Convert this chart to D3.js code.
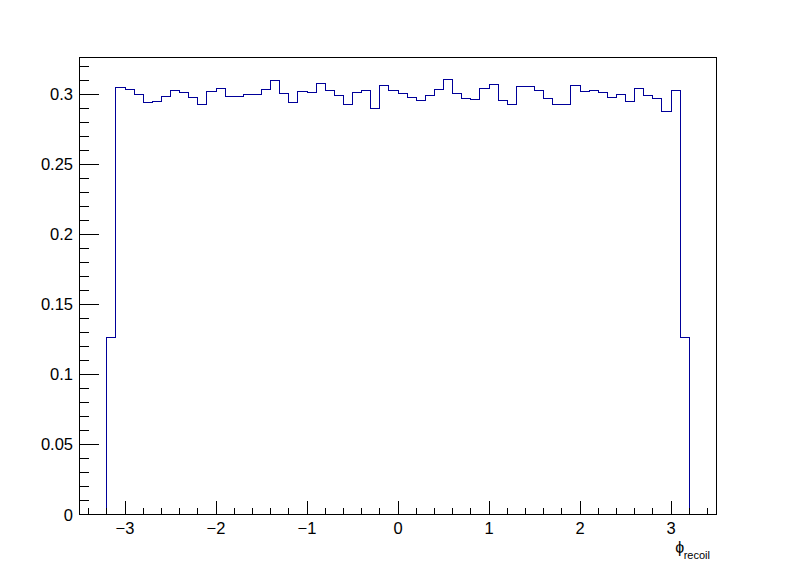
<!DOCTYPE html>
<html>
<head>
<meta charset="utf-8">
<script src="https://cdn.jsdelivr.net/npm/d3@7"></script>
<style>
  html, body { margin: 0; padding: 0; background: #ffffff; }
  svg { display: block; }
  text { font-family: "Liberation Sans", Arial, Helvetica, sans-serif; fill: #000; }
</style>
</head>
<body>
<svg id="chart" width="796" height="572"></svg>
<script>
// ---- data ----
const histXMin = -3.5;
const histXMax = 3.5;
// bin contents, 70 bins of width 0.1 from -3.5 to 3.5
const binValues = [
  0, 0, 0,
  0.1263, 0.3050, 0.3035, 0.3000, 0.2943, 0.2950, 0.2986, 0.3028, 0.3014, 0.2978,
  0.2924, 0.3021, 0.3042, 0.2986, 0.2986, 0.2995, 0.2995, 0.3035, 0.3099, 0.3007,
  0.2943, 0.3021, 0.3014, 0.3078, 0.3028, 0.2988, 0.2929, 0.3014, 0.3028, 0.2900,
  0.3064, 0.3028, 0.3007, 0.2978, 0.2957, 0.2993, 0.3035, 0.3107, 0.3007, 0.2971,
  0.2964, 0.3042, 0.3071, 0.2957, 0.2929, 0.3057, 0.3057, 0.3028, 0.2971, 0.2929,
  0.2929, 0.3064, 0.3021, 0.3028, 0.3014, 0.2978, 0.3000, 0.2950, 0.3042, 0.2993,
  0.2971, 0.2879, 0.3028, 0.1263,
  0, 0, 0
];
const xTickValues = [-3, -2, -1, 0, 1, 2, 3];
const xTickLabels = ["\u22123", "\u22122", "\u22121", "0", "1", "2", "3"];
const xMinorTicks = d3.range(-34, 35, 2).map(d => d / 10);
const yTickValues = [0, 0.05, 0.1, 0.15, 0.2, 0.25, 0.3];
const yTickLabels = ["0", "0.05", "0.1", "0.15", "0.2", "0.25", "0.3"];
const yMinorTicks = d3.range(0, 33, 1).map(d => d / 100);
const xTitleMain = "\u03D5";
const xTitleSub = "recoil";

// ---- layout ----
const W = 796, H = 572;
const fl = 79.5, fr = 716.5, ft = 57.5, fb = 514.5;
const lineColor = "#000099";
const labelSize = "16.5px";

const svg = d3.select("#chart");
svg.append("rect").attr("width", W).attr("height", H).attr("fill", "#fff");

const nBins = binValues.length;
const binW = (histXMax - histXMin) / nBins;
const yMax = d3.max(binValues) * 1.05;

const x = d3.scaleLinear().domain([histXMin, histXMax]).range([fl, fr]);
const y = d3.scaleLinear().domain([0, yMax]).range([fb, ft]);

const snap = v => Math.round(v - 0.5) + 0.5;

// histogram step line
const pts = [];
pts.push([x(histXMin), y(0)]);
binValues.forEach((v, i) => {
  const x0 = x(histXMin + i * binW), x1 = x(histXMin + (i + 1) * binW);
  pts.push([x0, y(v)]);
  pts.push([x1, y(v)]);
});
pts.push([x(histXMax), y(0)]);
const line = d3.line().x(d => snap(d[0])).y(d => snap(d[1]));
svg.append("path")
  .attr("d", line(pts))
  .attr("fill", "none")
  .attr("stroke", lineColor)
  .attr("stroke-width", 1)
  .attr("shape-rendering", "crispEdges");

// frame
svg.append("rect")
  .attr("x", fl).attr("y", ft)
  .attr("width", fr - fl).attr("height", fb - ft)
  .attr("fill", "none").attr("stroke", "#000").attr("stroke-width", 1)
  .attr("shape-rendering", "crispEdges");

// x axis ticks (pointing inward / up)
const xMajLen = 13.5, xMinLen = 7;
const gx = svg.append("g").attr("shape-rendering", "crispEdges");
xMinorTicks.forEach(v => {
  const isMajor = xTickValues.some(t => Math.abs(t - v) < 1e-9);
  const len = isMajor ? xMajLen : xMinLen;
  gx.append("line")
    .attr("x1", snap(x(v))).attr("x2", snap(x(v)))
    .attr("y1", fb).attr("y2", fb - len)
    .attr("stroke", "#000").attr("stroke-width", 1);
});
xTickValues.forEach((v, i) => {
  svg.append("text")
    .attr("x", x(v)).attr("y", 534)
    .attr("text-anchor", "middle")
    .attr("font-size", labelSize)
    .text(xTickLabels[i]);
});

// y axis ticks (pointing inward / right)
const yMajLen = 19, yMinLen = 9.5;
const gy = svg.append("g").attr("shape-rendering", "crispEdges");
yMinorTicks.forEach(v => {
  const isMajor = yTickValues.some(t => Math.abs(t - v) < 1e-9);
  const len = isMajor ? yMajLen : yMinLen;
  gy.append("line")
    .attr("x1", fl).attr("x2", fl + len)
    .attr("y1", snap(y(v))).attr("y2", snap(y(v)))
    .attr("stroke", "#000").attr("stroke-width", 1);
});
yTickValues.forEach((v, i) => {
  svg.append("text")
    .attr("x", 73).attr("y", y(v) + 6)
    .attr("text-anchor", "end")
    .attr("font-size", labelSize)
    .text(yTickLabels[i]);
});

// x axis title
const title = svg.append("text")
  .attr("x", 710).attr("y", 553)
  .attr("text-anchor", "end");
title.append("tspan").attr("font-size", "16px").text(xTitleMain);
title.append("tspan").attr("font-size", "11px").attr("dy", 6).attr("dx", -0.5).text(xTitleSub);
</script>
</body>
</html>
